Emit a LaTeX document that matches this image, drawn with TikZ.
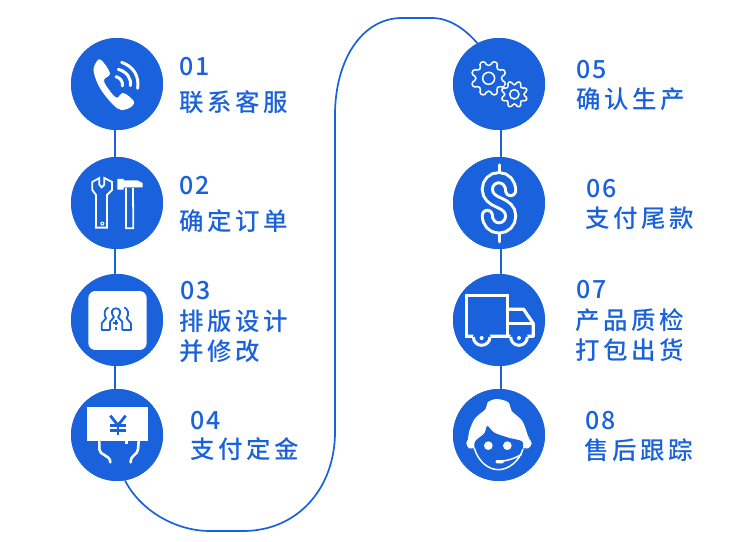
\documentclass[tikz,border=0pt]{standalone}
\usepackage{fontspec}
\newfontfamily\cjk[LetterSpace=14.5]{Noto Sans CJK SC Medium}
\newfontfamily\dig[LetterSpace=8]{Noto Sans CJK SC Medium}
\definecolor{bl}{HTML}{1A62DC}
\tikzset{
  x=1pt,y=-1pt,
  disc/.style={circle,fill=bl,minimum size=92pt,inner sep=0pt},
  lab/.style={anchor=base west,inner sep=0pt,text=bl,font=\cjk\fontsize{24.5}{24.5}\selectfont},
  num/.style={anchor=base west,inner sep=0pt,text=bl,font=\dig\fontsize{25}{25}\selectfont},
  link/.style={draw=bl,line width=2pt},
  route/.style={draw=bl,line width=1.7pt},
  wl/.style={draw=white,line cap=round,line join=round},
  zoomA/.style={shift={(60,30)},x=0.3333pt,y=-0.3333pt},
  zoomB/.style={shift={(60,265)},x=0.3333pt,y=-0.3333pt},
  zoomC/.style={shift={(445,30)},x=0.3333pt,y=-0.3333pt},
  zoomD/.style={shift={(445,265)},x=0.3333pt,y=-0.3333pt},
  zoomE/.style={shift={(95,300)},x=0.3333pt,y=-0.3333pt},
  zoomF/.style={shift={(465,395)},x=0.3333pt,y=-0.3333pt},
}
\begin{document}
\begin{tikzpicture}
\useasboundingbox (0,0) rectangle (752,541);
\fill[white] (0,0) rectangle (752,541);
\node[disc] (n1) at (117,84) {};
\node[disc] (n2) at (117,203) {};
\node[disc] (n3) at (117,320) {};
\node[disc] (n4) at (117,435) {};
\node[disc] (n5) at (499,84) {};
\node[disc] (n6) at (499,203) {};
\node[disc] (n7) at (499,320) {};
\node[disc] (n8) at (499,435) {};
\draw[link] ([xshift=-2pt]n1.center) -- ([xshift=-2pt]n2.center);
\draw[link] ([xshift=-2pt]n2.center) -- ([xshift=-2pt]n3.center);
\draw[link] ([xshift=-2pt]n3.center) -- ([xshift=-2pt]n4.center);
\draw[link] ([xshift=1.5pt]n5.center) -- ([xshift=1.5pt]n6.center);
\draw[link] ([xshift=1.5pt]n6.center) -- ([xshift=1.5pt]n7.center);
\draw[link] ([xshift=1.5pt]n7.center) -- ([xshift=1.5pt]n8.center);
\coordinate (b1) at (210,531);
\coordinate (b2) at (243,531);
\coordinate (r1) at (335,432);
\coordinate (r2) at (335,115);
\coordinate (t1) at (402,18);
\coordinate (t2) at (432,18);
\draw[route] (n4.-80) .. controls (140,510) and (175,531) .. (b1) -- (b2)
  .. controls (298,531) and (335,488) .. (r1) -- (r2)
  .. controls (335,60) and (362,18) .. (t1) -- (t2)
  .. controls (450,18) and (466,30) .. (n5.118);
\foreach \c in {n1,n2,n3,n4,n5,n6,n7,n8}{
  \fill[bl] (\c) circle (46pt);
}
% phone
\begin{scope}[zoomA]
\fill[white] plot[smooth cycle,tension=0.6] coordinates {(122,89) (105,103) (102,130) (124,181) (172,235) (206,235) (222,215) (190,189) (170,203) (146,178) (132,150) (150,130)};
\draw[wl,line width=3pt] (185,97) .. controls (222,110) and (238,140) .. (233,175);
\draw[wl,line width=3pt] (175,118) .. controls (200,125) and (215,145) .. (211,167);
\draw[wl,line width=3pt] (168,140) .. controls (180,143) and (190,155) .. (187,168);
% wrench
\draw[wl,line width=1.8pt,line join=miter] (118,444) -- (118,464) -- (125,472) -- (133,464) -- (133,444) -- (156,456) -- (156,480) -- (141,495) -- (141,593) -- (108,593) -- (108,495) -- (97,480) -- (97,456) -- cycle;
\fill[white] (127,581) circle (6);
\fill[bl] (127,581) circle (2.5);
% hammer
\fill[white] (172,447) -- (191,447) -- (191,451) -- (232,451) -- (248,459) -- (248,472) -- (191,472) -- (191,479) -- (172,479) -- cycle;
\draw[wl,line width=1.8pt,line join=miter] (198,475) -- (198,595) -- (220,595) -- (219,475);
\end{scope}
% people card
\begin{scope}[zoomB]
\fill[white,rounded corners=7pt] (85,78) rectangle (260,255);
\end{scope}
\begin{scope}[zoomE]
\draw[bl,line width=1.8pt,line join=round] (45,90) -- (45,65) -- (57,52) .. controls (45,35) and (52,25) .. (63,25) .. controls (74,25) and (81,35) .. (69,52) -- (82,65) -- (82,90);
\draw[bl,line width=1.8pt,line join=round] (40,22) .. controls (28,28) and (25,42) .. (33,55) -- (20,70) -- (20,90) -- (45,90);
\draw[bl,line width=1.8pt,line join=round] (88,22) .. controls (100,28) and (103,42) .. (95,55) -- (108,70) -- (108,90) -- (82,90);
\draw[bl,line width=1.8pt] (54,68) -- (70,68) (62,60) -- (62,76);
\draw[bl,line width=1.8pt] (63,82) -- (63,90);
\end{scope}
\begin{scope}[zoomB]
% yen card
\fill[white] (80,427) rectangle (265,527);
\fill[white] (196,527) rectangle (205,537);
\draw[bl,line width=2.8pt] (151,452) -- (174,481) -- (197,452);
\draw[bl,line width=2.8pt] (174,481) -- (174,511) (151,482) -- (197,482) (151,497) -- (197,497);
\draw[wl,line width=2.6pt] (118,530) -- (118,553) .. controls (118,572) and (150,568) .. (151,592);
\draw[wl,line width=2.6pt] (236,530) -- (234,553) .. controls (232,572) and (212,568) .. (212,592);
\end{scope}
% gears
\begin{scope}[zoomC]
\begin{scope}[shift={(131,145)}]
\draw[white,line width=1.5pt,rounded corners=1.6pt] (8.5:39) \foreach \a in {22.5,67.5,...,337.5}{ -- (\a-14:39) -- (\a-9:53) -- (\a+9:53) -- (\a+14:39) } -- cycle;
\draw[white,line width=1.5pt] (0,0) circle (18);
\end{scope}
\begin{scope}[shift={(208,193)}]
\fill[bl] (0,0) circle (38);
\draw[white,line width=1.5pt,rounded corners=1.4pt] (8.5:29) \foreach \a in {22.5,67.5,...,337.5}{ -- (\a-14:29) -- (\a-9:40) -- (\a+9:40) -- (\a+14:29) } -- cycle;
\draw[white,line width=1.5pt] (0,0) circle (14);
\end{scope}
% dollar
\draw[wl,line width=3pt] (162,405) -- (162,432) (162,608) -- (162,636);
\def\spath{(197,482) .. controls (197,460) and (182,443) .. (162,443) .. controls (142,443) and (127,458) .. (127,478) .. controls (127,498) and (142,510) .. (162,518) .. controls (182,526) and (197,538) .. (197,558) .. controls (197,578) and (182,594) .. (162,594) .. controls (142,594) and (127,578) .. (127,556)}
\draw[white,line width=13pt,line cap=round] \spath;
\draw[bl,line width=7pt,line cap=round] \spath;
\end{scope}
% truck
\begin{scope}[zoomD]
\draw[white,line width=3.2pt,line join=miter] (64,213) -- (64,91) -- (188,91) -- (188,213);
\draw[white,line width=3.2pt,line join=round] (192,133) -- (236,133) -- (265,176) -- (265,214) -- (60,214);
\draw[white,line width=2.6pt] (192,176) -- (265,176);
\foreach \w in {110,222}{
  \fill[bl] (\w,216) circle (26);
  \draw[white,line width=3pt] (\w-25,216) arc[start angle=180,end angle=360,x radius=25,y radius=-25];
  \fill[white] (\w,219) circle (6);
}
\end{scope}
% woman
\begin{scope}[zoomF]
\fill[white] plot[smooth cycle,tension=0.55] coordinates {(95,12) (68,22) (62,42) (30,70) (13,108) (9,132) (4,145) (12,160) (28,160) (100,170) (175,160) (190,160) (200,145) (190,125) (172,78) (140,48) (130,22)};
\fill[bl] plot[smooth cycle,tension=0.5] coordinates {(67,93) (58,115) (30,140) (32,170) (60,210) (100,222) (145,208) (170,170) (172,140) (130,128) (88,113)};
\draw[white,line width=1.5pt] (28,160) .. controls (40,200) and (70,224) .. (100,224) .. controls (130,224) and (162,200) .. (174,162);
\draw[white,line width=1.5pt] (170,178) .. controls (150,190) and (130,197) .. (105,199);
\fill[white,rounded corners=1pt] (92,195) rectangle (116,205);
\fill[white] (70,152) circle (13) (127,152) circle (13);
\end{scope}
% texts
\node[num] (a1) at (179,75) {01};
\node[lab] (c1) at (179,111) {联系客服};
\node[num] (a2) at (179,194) {02};
\node[lab] (c2) at (179,230) {确定订单};
\node[num] (a3) at (180,299) {03};
\node[lab] (c3) at (179,330) {排版设计};
\node[lab] (d3) at (179,360) {并修改};
\node[num] (a4) at (190,429) {04};
\node[lab] (c4) at (190,458) {支付定金};
\node[num] (a5) at (576,78) {05};
\node[lab] (c5) at (576,108) {确认生产};
\node[num] (a6) at (586,197) {06};
\node[lab] (c6) at (585,227) {支付尾款};
\node[num] (a7) at (576,298) {07};
\node[lab] (c7) at (575,329) {产品质检};
\node[lab] (d7) at (575,359) {打包出货};
\node[num] (a8) at (585,429) {08};
\node[lab] (c8) at (584,459) {售后跟踪};
\end{tikzpicture}
\end{document}
